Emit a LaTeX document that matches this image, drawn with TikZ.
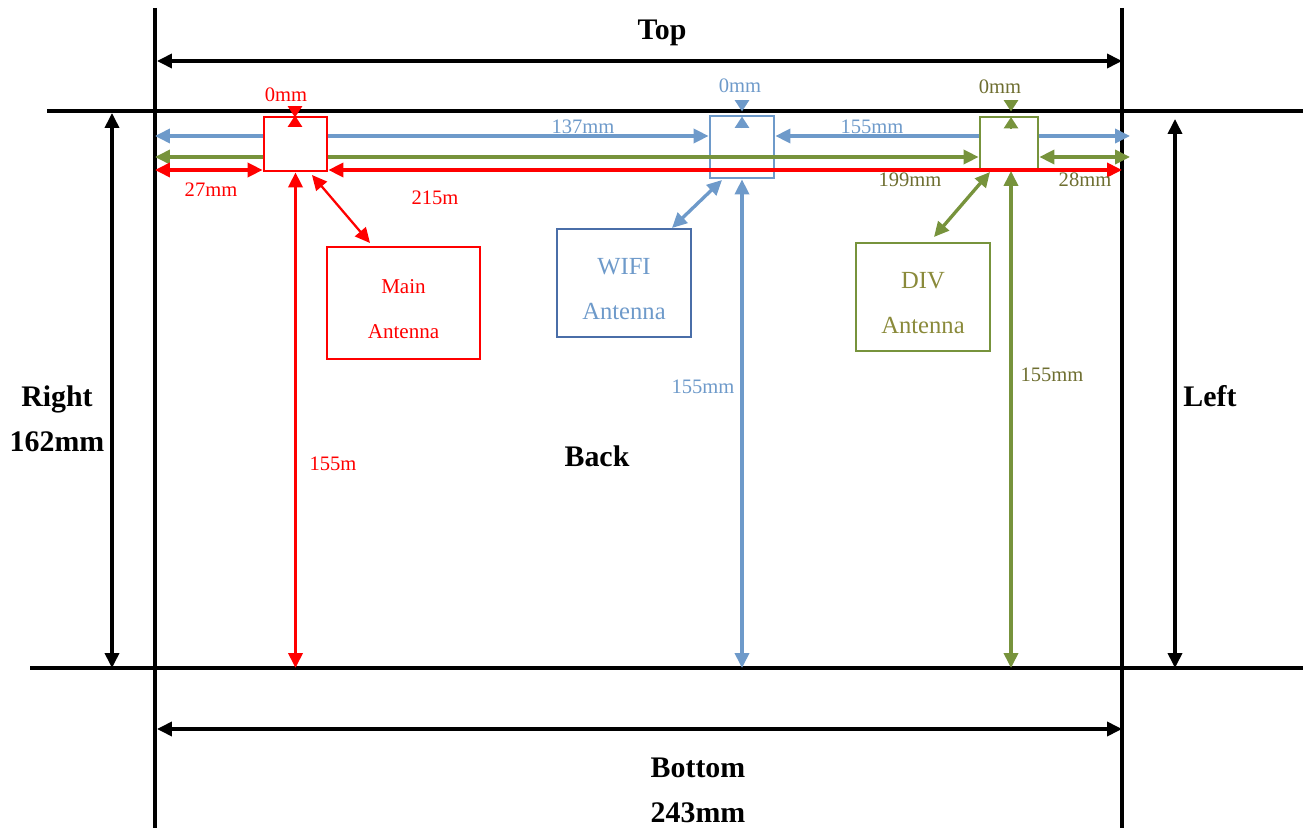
\documentclass[tikz,border=0pt]{standalone}
\usepackage{fontspec}
\setmainfont{Liberation Serif}
\usetikzlibrary{arrows.meta}
\definecolor{cred}{HTML}{FF0000}
\definecolor{cblue}{HTML}{6E9ACA}
\definecolor{cbluebox}{HTML}{4A6EA8}
\definecolor{cgreen}{HTML}{77933C}
\definecolor{cgtext}{HTML}{8A8A3A}
\definecolor{colive}{HTML}{6E6E30}
\begin{document}
\begin{tikzpicture}[x=0.02cm,y=-0.02cm,
  >={Triangle[length=8.5pt,width=8pt]},
  blk/.style={line width=1.9pt, black},
  dim/.style={line width=1.9pt},
  mk/.style={line width=1.4pt, -{Triangle[length=6.5pt,width=8pt]}},
  box/.style={draw, fill=white, inner sep=0pt, line width=1.6pt},
  ant/.style={draw, inner sep=0pt, line width=1.1pt},
  anttxt/.style={align=center, inner sep=0pt},
  big/.style={font=\fontsize{17}{20}\selectfont\bfseries, inner sep=0pt},
  sm/.style={font=\fontsize{11.7}{14}\selectfont, inner sep=0pt}]
\useasboundingbox (0,0) rectangle (1303,828);

% frame coordinates
\coordinate (vLt) at (155,8);   \coordinate (vLb) at (155,828);
\coordinate (vRt) at (1122,8);  \coordinate (vRb) at (1122,828);
\coordinate (hTl) at (47,111);  \coordinate (hTr) at (1303,111);
\coordinate (hBl) at (30,668);  \coordinate (hBr) at (1303,668);
\draw[blk] (vLt) -- (vLb);
\draw[blk] (vRt) -- (vRb);
\draw[blk] (hTl) -- (hTr);
\draw[blk] (hBl) -- (hBr);

% outer dimension arrows
\coordinate (ta1) at (157,61);  \coordinate (ta2) at (1122,61);
\coordinate (ba1) at (157,729); \coordinate (ba2) at (1122,729);
\coordinate (ra1) at (112,113); \coordinate (ra2) at (112,668);
\coordinate (la1) at (1175,119); \coordinate (la2) at (1175,668);
\draw[blk,<->] (ta1) -- (ta2);
\draw[blk,<->] (ba1) -- (ba2);
\draw[blk,<->] (ra1) -- (ra2);
\draw[blk,<->] (la1) -- (la2);

\node[big] (ttop) at (662,33) {Top};
\node[big] (tbot) at (698,768) {Bottom};
\node[big] (tbotmm) at (698,813) {243mm};
\node[big] (tright) at (57,399) {Right};
\node[big] (trightmm) at (57,442) {162mm};
\node[big] (tleft) at (1210,396) {Left};
\node[big] (tback) at (597,456) {Back};

% antenna position boxes
\node[box, draw=cred, minimum width=1.26cm, minimum height=1.08cm] (mainbox) at (295.5,144) {};
\node[box, draw=cblue, fill=none, minimum width=1.28cm, minimum height=1.24cm] (wifibox) at (742,147) {};
\node[box, draw=cgreen, minimum width=1.16cm, minimum height=1.06cm] (divbox) at (1009,143.5) {};

% end coordinates of horizontal dimension lines
\coordinate (bL) at (155,136);  \coordinate (bR) at (1130,136);
\coordinate (gL) at (155,157);  \coordinate (gR) at (1130,157);
\coordinate (rL) at (155,170);  \coordinate (rR) at (1122,170);

% blue horizontal
\draw[dim,cblue,<-] (bL) -- (bL -| mainbox.west);
\draw[dim,cblue,->] (bL -| mainbox.east) -- (bL -| wifibox.west);
\draw[dim,cblue,<-] (bL -| wifibox.east) -- (bL -| divbox.west);
\draw[dim,cblue,->] (bL -| divbox.east) -- (bR);
% green horizontal
\draw[dim,cgreen,<-] (gL) -- (gL -| mainbox.west);
\draw[dim,cgreen,->] (gL -| mainbox.east) -- (gL -| divbox.west);
\draw[dim,cgreen,<->] (gL -| divbox.east) -- (gR);
% red horizontal
\draw[dim,cred,<->] (rL) -- (rL -| mainbox.west);
\draw[dim,cred,<->] (rL -| mainbox.east) -- (rR);

% vertical dimension lines
\coordinate (gv1) at (1011,171); \coordinate (gv2) at (1011,668);
\draw[dim,cred,<->] (mainbox.south) -- (mainbox.south |- hBl);
\draw[dim,cblue,<->] (wifibox.south) -- (wifibox.south |- hBl);
\draw[dim,cgreen,<->] (gv1) -- (gv2);

% 0mm markers
\coordinate (rm1) at (295,106); \coordinate (rm2) at (295,127);
\coordinate (rm3) at (295,117.5); \coordinate (rm4) at (295,115.5);
\draw[mk,cred] (rm1) -- (rm3);
\draw[mk,cred] (rm2) -- (rm4);
\coordinate (bm1) at (742,100); \coordinate (bm2) at (742,128.5);
\coordinate (bm3) at (742,111.5); \coordinate (bm4) at (742,116.5);
\draw[mk,cblue] (bm1) -- (bm3);
\draw[mk,cblue] (bm2) -- (bm4);
\coordinate (gm1) at (1011,100); \coordinate (gm2) at (1011,129);
\coordinate (gm3) at (1011,111.5); \coordinate (gm4) at (1011,117);
\draw[mk,cgreen] (gm1) -- (gm3);
\draw[mk,cgreen] (gm2) -- (gm4);

% antenna label boxes
\node[ant, draw=cred, minimum width=3.06cm, minimum height=2.24cm] (mainant) at (403.5,303) {};
\node[ant, draw=cbluebox, minimum width=2.68cm, minimum height=2.16cm] (wifiant) at (624,283) {};
\node[ant, draw=cgreen, minimum width=2.68cm, minimum height=2.16cm] (divant) at (923,297) {};
\node[anttxt, text=cred, font=\fontsize{12}{25.6}\selectfont, yshift=-0.12cm] (mainanttxt) at (mainant.center) {Main\\Antenna};
\node[anttxt, text=cblue, font=\fontsize{14}{25.6}\selectfont, yshift=-0.12cm] (wifianttxt) at (wifiant.center) {WIFI\\Antenna};
\node[anttxt, text=cgtext, font=\fontsize{14}{25.6}\selectfont, yshift=-0.12cm] (divanttxt) at (divant.center) {DIV\\Antenna};

% diagonal leaders
\coordinate (rd1) at (312,175); \coordinate (rd2) at (370,243);
\coordinate (bd1) at (722,180); \coordinate (bd2) at (672,228);
\coordinate (gd1) at (990,172); \coordinate (gd2) at (934,237);
\draw[dim,cred,<->,line width=1.3pt] (rd1) -- (rd2);
\draw[dim,cblue,<->] (bd1) -- (bd2);
\draw[dim,cgreen,<->] (gd1) -- (gd2);

% dimension labels
\node[sm,text=cred] (l0r) at (286,95) {0mm};
\node[sm,text=cblue] (l0b) at (740,86) {0mm};
\node[sm,text=colive] (l0g) at (1000,87) {0mm};
\node[sm,text=cblue] (l137) at (583,127) {137mm};
\node[sm,text=cblue] (l155b) at (872,127) {155mm};
\node[sm,text=cred] (l27) at (211,190) {27mm};
\node[sm,text=cred] (l215) at (435,198) {215m};
\node[sm,text=colive] (l199) at (910,180) {199mm};
\node[sm,text=colive] (l28) at (1085,180) {28mm};
\node[sm,text=cred] (l155r) at (333,464) {155m};
\node[sm,text=cblue] (l155v) at (703,387) {155mm};
\node[sm,text=colive] (l155g) at (1052,375) {155mm};
\end{tikzpicture}
\end{document}
